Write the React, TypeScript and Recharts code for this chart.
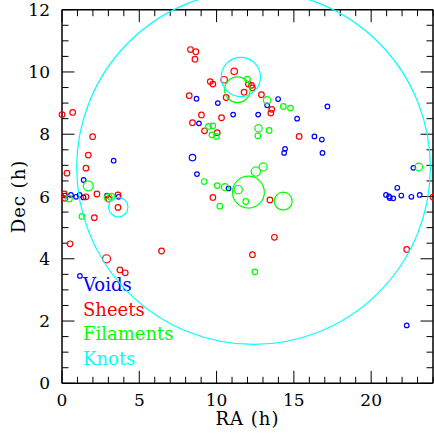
import React from 'react';
import {ScatterChart, Scatter, XAxis, YAxis, ReferenceLine} from 'recharts';

// points: [RA (h), Dec (h)] or [RA, Dec, radius in h]
const voids: number[][] = [
    [0.2, 6.03], [0.58, 6.05], [0.91, 5.99], [1.14, 6.05], [1.39, 5.97], [2.91, 6.03],
    [3.66, 5.99], [1.4, 6.53], [3.34, 7.15], [1.16, 3.45], [8.7, 9.14], [8.86, 8.35],
    [8.44, 7.25, 0.21], [8.73, 6.72], [10.08, 9.0], [11.07, 8.63], [12.69, 8.63],
    [13.27, 8.93], [13.98, 9.13], [10.77, 6.26], [14.43, 7.53], [14.37, 7.4], [15.21, 8.5],
    [16.33, 7.93], [16.81, 7.83], [16.85, 7.4], [17.17, 8.89], [22.73, 6.92], [21.69, 6.28],
    [20.96, 6.05], [21.16, 6.0], [21.2, 5.95], [21.43, 5.94], [21.95, 6.03], [22.6, 5.99],
    [23.14, 6.05], [22.3, 1.86],
];

const sheets: number[][] = [
    [0.0, 8.63], [0.69, 8.7], [1.98, 7.92], [1.7, 7.33], [1.55, 6.91], [0.32, 6.75],
    [0.15, 6.08], [0.19, 5.94], [1.55, 5.99], [2.26, 6.08], [3.02, 5.92], [3.62, 6.05],
    [3.62, 5.65], [2.09, 5.32], [0.52, 4.48], [2.88, 4.0, 0.26], [3.75, 3.64], [4.09, 3.55],
    [6.44, 4.25], [8.31, 10.72], [8.66, 10.65], [8.6, 10.41], [9.59, 9.69], [9.76, 9.61],
    [8.23, 9.24], [9.02, 8.62], [8.44, 8.37], [9.22, 8.11], [10.04, 8.05], [11.14, 10.02, 0.21],
    [10.49, 9.75, 0.21], [12.06, 9.61], [12.26, 9.57], [12.32, 9.49], [11.78, 9.35],
    [10.62, 9.18], [12.9, 9.27], [13.57, 8.8], [13.51, 8.68], [10.32, 8.53], [15.34, 7.93],
    [9.76, 5.97], [13.45, 5.89], [13.74, 4.69], [12.32, 4.13], [22.3, 4.3], [24.0, 5.98],
];

const filaments: number[][] = [
    [0.45, 5.93, 0.21], [1.7, 6.34, 0.32], [2.99, 5.96, 0.26], [3.19, 5.99, 0.23], [1.29, 5.36],
    [9.48, 8.25], [9.76, 8.27], [9.7, 7.98], [9.98, 7.93], [9.2, 6.48], [10.04, 6.35],
    [10.54, 6.3, 0.23], [11.4, 6.22, 0.27], [12.06, 6.14, 1.03], [11.89, 5.84],
    [12.54, 6.8, 0.3], [13.01, 6.95, 0.26], [14.31, 5.85, 0.58], [10.21, 5.69],
    [11.35, 9.43, 0.83], [12.0, 9.77], [13.27, 9.09, 0.24], [14.32, 8.89], [14.78, 8.84],
    [12.71, 8.19, 0.24], [13.4, 8.12], [12.67, 7.95], [12.47, 3.58], [23.08, 6.95, 0.25],
];

const knots: number[][] = [
    [12.39, 6.93, 11.44], [11.57, 9.84, 1.27], [3.64, 5.66, 0.63],
];

const xTicks = Array.from({length: 25}, (_, i) => i);
const yTicks = Array.from({length: 25}, (_, i) => i / 2);
const xLabels = [0, 5, 10, 15, 20];
const yLabels = [0, 2, 4, 6, 8, 10, 12];

const W = 434;
const H = 441;
const LEFT = 62;
const RIGHT = 1;
const TOP = 9.7;
const BOTTOM = 57.7;
const PX_PER_H = (W - LEFT - RIGHT) / 24;
const PX_PER_DEC = (H - TOP - BOTTOM) / 12;
const FONT = 'DejaVu Serif';

// tick lengths in px, turned into data units for the ReferenceLine segments
const MAJOR = 12.5;
const MINOR = 6.5;

const series = [
    {name: 'Voids', color: '#0000ff', pts: voids, r: 2.3},
    {name: 'Sheets', color: '#ff0000', pts: sheets, r: 2.8},
    {name: 'Filaments', color: '#00ff00', pts: filaments, r: 2.8},
    {name: 'Knots', color: '#00ffff', pts: knots, r: 2.8},
];

const toRows = (pts: number[][]) => pts.map(p => ({ra: p[0], dec: p[1], size: p[2]}));

const ringShape = (color: string, defR: number) => (props: any) => {
    const {cx, cy, payload} = props;
    const r = payload.size != null ? payload.size * PX_PER_H : defR;
    return <circle cx={cx} cy={cy} r={r} fill="none" stroke={color} strokeWidth={1.2}/>;
};

export default function App() {
    const tickStyle = {fontSize: 17, fontFamily: FONT, fill: '#000'};
    return (
        <div style={{position: 'absolute', left: 0, top: 0, width: W, height: H}}>
            <ScatterChart width={W} height={H} margin={{top: TOP, right: RIGHT, bottom: 0, left: 0}}>
                <XAxis xAxisId="b" type="number" dataKey="ra" domain={[0, 24]} ticks={xLabels} interval={0}
                       height={BOTTOM} tickSize={0} tickMargin={11} tickLine={false} axisLine={false}
                       tick={tickStyle}/>
                <YAxis yAxisId="l" type="number" dataKey="dec" domain={[0, 12]} ticks={yLabels} interval={0}
                       width={LEFT} tickSize={0} tickMargin={12} tickLine={false} axisLine={false}
                       tick={tickStyle}/>

                {/* frame */}
                <ReferenceLine xAxisId="b" yAxisId="l" y={0} stroke="#000" strokeWidth={1.5}/>
                <ReferenceLine xAxisId="b" yAxisId="l" y={12} stroke="#000" strokeWidth={1.5}/>
                <ReferenceLine xAxisId="b" yAxisId="l" x={0} stroke="#000" strokeWidth={1.5}/>
                <ReferenceLine xAxisId="b" yAxisId="l" x={24} stroke="#000" strokeWidth={1.5}/>

                {/* inward ticks, bottom and top */}
                {xTicks.map(v => {
                    const len = (v % 5 === 0 ? MAJOR : MINOR) / PX_PER_DEC;
                    return [
                        <ReferenceLine key={'xb' + v} xAxisId="b" yAxisId="l" stroke="#000"
                                       segment={[{x: v, y: 0}, {x: v, y: len}]}/>,
                        <ReferenceLine key={'xt' + v} xAxisId="b" yAxisId="l" stroke="#000"
                                       segment={[{x: v, y: 12}, {x: v, y: 12 - len}]}/>,
                    ];
                })}
                {/* inward ticks, left and right */}
                {yTicks.map(v => {
                    const len = (v % 2 === 0 ? MAJOR : MINOR) / PX_PER_H;
                    return [
                        <ReferenceLine key={'yl' + v} xAxisId="b" yAxisId="l" stroke="#000"
                                       segment={[{x: 0, y: v}, {x: len, y: v}]}/>,
                        <ReferenceLine key={'yr' + v} xAxisId="b" yAxisId="l" stroke="#000"
                                       segment={[{x: 24, y: v}, {x: 24 - len, y: v}]}/>,
                    ];
                })}

                {series.map(s => (
                    <Scatter key={s.name} name={s.name} xAxisId="b" yAxisId="l" data={toRows(s.pts)}
                             fill={s.color} shape={ringShape(s.color, s.r)} isAnimationActive={false}/>
                ))}

                {/* axis titles and legend */}
                <text x={247.5} y={425} textAnchor="middle" fontSize={18} letterSpacing={1}
                      fontFamily={FONT} fill="#000">RA (h)</text>
                <text x={24.5} y={196.5} transform="rotate(-90 24.5 196.5)" textAnchor="middle" fontSize={18}
                      letterSpacing={1} fontFamily={FONT} fill="#000">Dec (h)</text>
                {series.map((s, i) => (
                    <text key={'lg' + s.name} x={83} y={291 + i * 24.7} fontSize={18} fontFamily={FONT}
                          fill={s.color}>{s.name}</text>
                ))}
            </ScatterChart>
        </div>
    );
}
